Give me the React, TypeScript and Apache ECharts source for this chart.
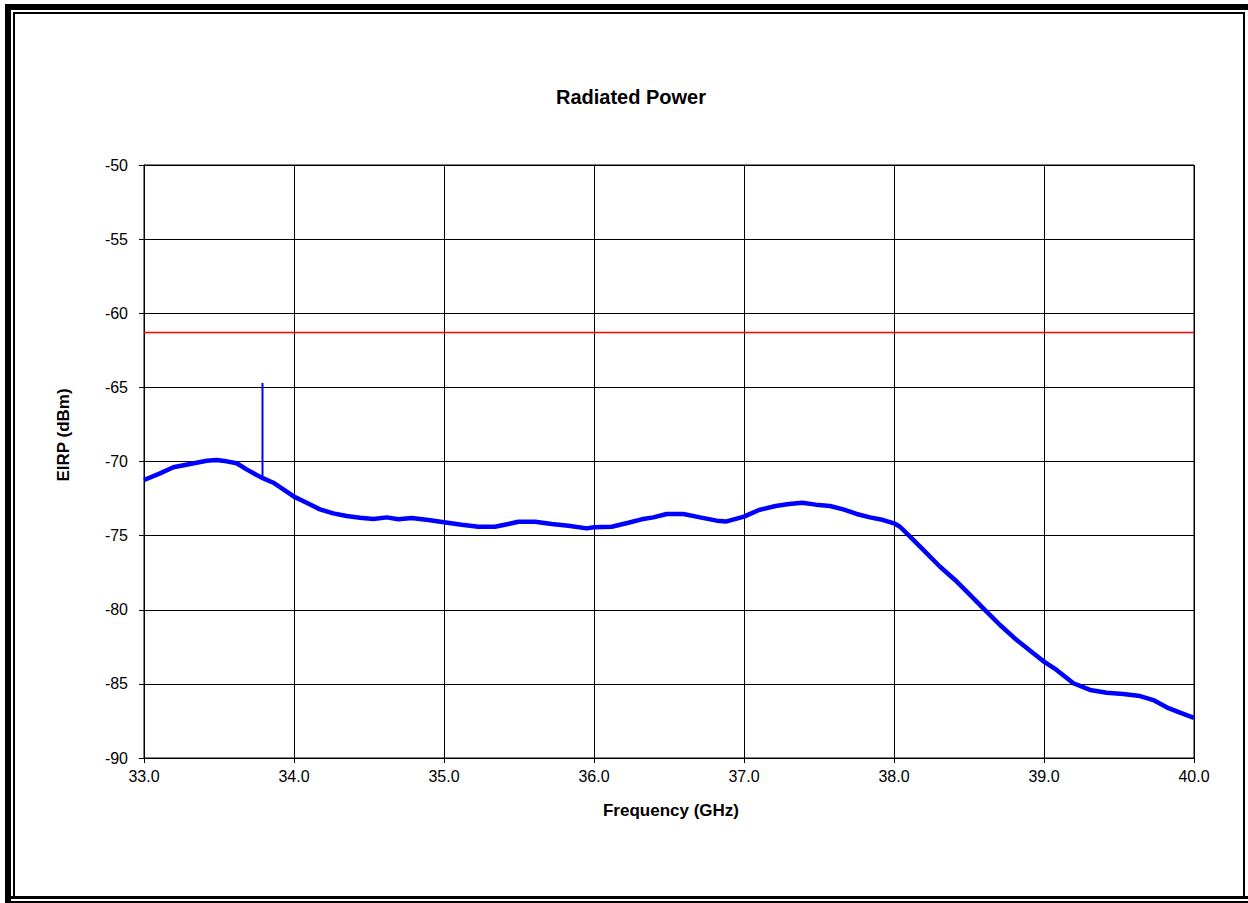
import React, { useEffect, useRef } from "react";
import * as echarts from "echarts";

// Frequency (GHz) and EIRP (dBm)
const freqGHz = [
  33.0, 33.107, 33.196, 33.307, 33.418, 33.484, 33.551, 33.618, 33.684, 33.751,
  33.796, 33.862, 33.929, 34.0, 34.084, 34.173, 34.262, 34.351, 34.44, 34.529,
  34.618, 34.696, 34.784, 34.896, 35.0, 35.118, 35.229, 35.34, 35.429, 35.496,
  35.607, 35.718, 35.829, 35.951, 36.0, 36.118, 36.229, 36.318, 36.396, 36.484,
  36.596, 36.707, 36.818, 36.884, 37.0, 37.1, 37.211, 37.3, 37.389, 37.478,
  37.573, 37.662, 37.751, 37.84, 37.929, 38.0, 38.04, 38.107, 38.207, 38.307,
  38.407, 38.507, 38.607, 38.707, 38.818, 38.929, 39.0, 39.084, 39.196, 39.307,
  39.418, 39.529, 39.64, 39.729, 39.818, 39.907, 40.0,
];
const eirpDbm = [
  -71.25, -70.8, -70.39, -70.17, -69.95, -69.9, -69.99, -70.12, -70.53, -70.91,
  -71.14, -71.43, -71.88, -72.37, -72.78, -73.23, -73.5, -73.68, -73.79, -73.88,
  -73.77, -73.9, -73.81, -73.95, -74.1, -74.26, -74.4, -74.4, -74.22, -74.06,
  -74.06, -74.22, -74.33, -74.51, -74.44, -74.4, -74.13, -73.9, -73.77, -73.54,
  -73.54, -73.77, -73.99, -74.04, -73.72, -73.27, -73.0, -72.87, -72.78, -72.91,
  -73.0, -73.23, -73.54, -73.77, -73.95, -74.17, -74.4, -75.07, -76.08, -77.1,
  -77.99, -79.0, -80.02, -81.03, -82.04, -82.94, -83.5, -84.06, -84.96, -85.41,
  -85.6, -85.68, -85.82, -86.09, -86.58, -86.94, -87.3,
];
// Narrow spur
const spurFreq = [33.79, 33.79];
const spurEirp = [-71.1, -64.7];
// Limit line
const limitFreq = [33.0, 40.0];
const limitEirp = [-61.3, -61.3];

const xTicks = { min: 33, max: 40, interval: 1 };
const yTicks = { min: -90, max: -50, interval: 5 };

const FONT = "'Liberation Sans', Arial, sans-serif";

export default function App() {
  const ref = useRef<HTMLDivElement>(null);
  useEffect(() => {
    if (!ref.current) return;
    const chart = echarts.init(ref.current, null, { renderer: "svg" });
    const zip = (a: number[], b: number[]) => a.map((v, i) => [v, b[i]]);
    chart.setOption({
      animation: false,
      backgroundColor: "#fff",
      textStyle: { fontFamily: FONT },
      grid: {
        left: 144,
        top: 165,
        width: 1050,
        height: 593,
        show: true,
        borderColor: "#000",
        borderWidth: 1,
        containLabel: false,
      },
      xAxis: {
        type: "value",
        min: xTicks.min,
        max: xTicks.max,
        interval: xTicks.interval,
        axisLine: { show: true, onZero: false, lineStyle: { color: "#000", width: 1 } },
        axisTick: { show: true, length: 5, lineStyle: { color: "#000" } },
        axisLabel: {
          color: "#000",
          fontSize: 16,
          fontFamily: FONT,
          margin: 10,
          formatter: (v: number) => v.toFixed(1),
        },
        splitLine: { show: true, lineStyle: { color: "#000", width: 1 } },
      },
      yAxis: {
        type: "value",
        min: yTicks.min,
        max: yTicks.max,
        interval: yTicks.interval,
        axisLine: { show: true, onZero: false, lineStyle: { color: "#000", width: 1 } },
        axisTick: { show: true, length: 5, lineStyle: { color: "#000" } },
        axisLabel: { color: "#000", fontSize: 16, fontFamily: FONT, margin: 16 },
        splitLine: { show: true, lineStyle: { color: "#000", width: 1 } },
      },
      series: [
        {
          type: "line",
          data: zip(limitFreq, limitEirp),
          showSymbol: false,
          lineStyle: { color: "#ff0000", width: 1.5 },
          z: 3,
        },
        {
          type: "line",
          data: zip(spurFreq, spurEirp),
          showSymbol: false,
          lineStyle: { color: "#0000ff", width: 2 },
          z: 4,
        },
        {
          type: "line",
          data: zip(freqGHz, eirpDbm),
          showSymbol: false,
          lineStyle: { color: "#0000ff", width: 4.5 },
          z: 5,
        },
      ],
      graphic: [
        { type: "rect", shape: { x: 5, y: 4, width: 1243, height: 6 }, style: { fill: "#000" } },
        { type: "rect", shape: { x: 5, y: 4, width: 6, height: 899 }, style: { fill: "#000" } },
        {
          type: "rect",
          shape: { x: 14, y: 13, width: 1230, height: 884 },
          style: { fill: "none", stroke: "#000", lineWidth: 2 },
        },
        { type: "rect", shape: { x: 11, y: 896, width: 1237, height: 3 }, style: { fill: "#000" } },
        { type: "rect", shape: { x: 11, y: 901, width: 1237, height: 2 }, style: { fill: "#000" } },
        {
          type: "text",
          x: 631,
          y: 97,
          style: {
            text: "Radiated Power",
            fill: "#000",
            font: `bold 20px ${FONT}`,
            textAlign: "center",
            textVerticalAlign: "middle",
          },
        },
        {
          type: "text",
          x: 671,
          y: 810,
          style: {
            text: "Frequency (GHz)",
            fill: "#000",
            font: `bold 17px ${FONT}`,
            textAlign: "center",
            textVerticalAlign: "middle",
          },
        },
        {
          type: "text",
          x: 63,
          y: 435,
          rotation: Math.PI / 2,
          style: {
            text: "EIRP (dBm)",
            fill: "#000",
            font: `bold 17px ${FONT}`,
            textAlign: "center",
            textVerticalAlign: "middle",
          },
        },
      ],
    });
    return () => chart.dispose();
  }, []);
  return (
    <div
      ref={ref}
      style={{ position: "absolute", left: 0, top: 0, width: 1248, height: 903 }}
    />
  );
}
